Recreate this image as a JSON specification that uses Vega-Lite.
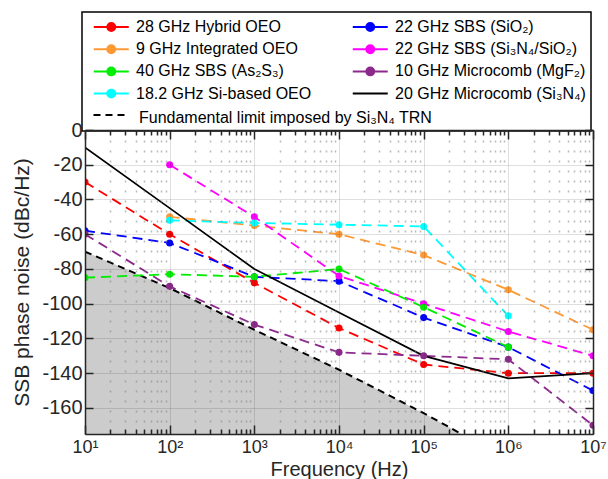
{
  "$schema": "https://vega.github.io/schema/vega-lite/v6.json",
  "width": 508,
  "height": 304,
  "autosize": {"type": "none"},
  "padding": {"left": 85, "top": 130, "right": 15, "bottom": 45},
  "background": "white",
  "config": {"view": {"stroke": null}, "font": "Liberation Sans"},
  "datasets": {
    "series": [
      {"s": "28 GHz Hybrid OEO", "f": 10, "n": -30},
      {"s": "28 GHz Hybrid OEO", "f": 100, "n": -60},
      {"s": "28 GHz Hybrid OEO", "f": 1000, "n": -88},
      {"s": "28 GHz Hybrid OEO", "f": 10000, "n": -114},
      {"s": "28 GHz Hybrid OEO", "f": 100000, "n": -135},
      {"s": "28 GHz Hybrid OEO", "f": 1000000, "n": -140},
      {"s": "28 GHz Hybrid OEO", "f": 10000000, "n": -140},
      {"s": "22 GHz SBS (SiO₂)", "f": 10, "n": -58},
      {"s": "22 GHz SBS (SiO₂)", "f": 100, "n": -65},
      {"s": "22 GHz SBS (SiO₂)", "f": 1000, "n": -84.5},
      {"s": "22 GHz SBS (SiO₂)", "f": 10000, "n": -87},
      {"s": "22 GHz SBS (SiO₂)", "f": 100000, "n": -108},
      {"s": "22 GHz SBS (SiO₂)", "f": 1000000, "n": -125},
      {"s": "22 GHz SBS (SiO₂)", "f": 10000000, "n": -150},
      {"s": "9 GHz Integrated OEO", "f": 100, "n": -50},
      {"s": "9 GHz Integrated OEO", "f": 1000, "n": -55},
      {"s": "9 GHz Integrated OEO", "f": 10000, "n": -60},
      {"s": "9 GHz Integrated OEO", "f": 100000, "n": -72},
      {"s": "9 GHz Integrated OEO", "f": 1000000, "n": -92},
      {"s": "9 GHz Integrated OEO", "f": 10000000, "n": -115},
      {"s": "22 GHz SBS (Si₃N₄/SiO₂)", "f": 100, "n": -20},
      {"s": "22 GHz SBS (Si₃N₄/SiO₂)", "f": 1000, "n": -50},
      {"s": "22 GHz SBS (Si₃N₄/SiO₂)", "f": 10000, "n": -84},
      {"s": "22 GHz SBS (Si₃N₄/SiO₂)", "f": 100000, "n": -100},
      {"s": "22 GHz SBS (Si₃N₄/SiO₂)", "f": 1000000, "n": -116},
      {"s": "22 GHz SBS (Si₃N₄/SiO₂)", "f": 10000000, "n": -130},
      {"s": "40 GHz SBS (As₂S₃)", "f": 10, "n": -85},
      {"s": "40 GHz SBS (As₂S₃)", "f": 100, "n": -83},
      {"s": "40 GHz SBS (As₂S₃)", "f": 1000, "n": -84.5},
      {"s": "40 GHz SBS (As₂S₃)", "f": 10000, "n": -80},
      {"s": "40 GHz SBS (As₂S₃)", "f": 100000, "n": -102},
      {"s": "40 GHz SBS (As₂S₃)", "f": 1000000, "n": -125},
      {"s": "10 GHz Microcomb (MgF₂)", "f": 10, "n": -60},
      {"s": "10 GHz Microcomb (MgF₂)", "f": 100, "n": -90},
      {"s": "10 GHz Microcomb (MgF₂)", "f": 1000, "n": -112},
      {"s": "10 GHz Microcomb (MgF₂)", "f": 10000, "n": -128},
      {"s": "10 GHz Microcomb (MgF₂)", "f": 100000, "n": -130},
      {"s": "10 GHz Microcomb (MgF₂)", "f": 1000000, "n": -132},
      {"s": "10 GHz Microcomb (MgF₂)", "f": 10000000, "n": -170},
      {"s": "18.2 GHz Si-based OEO", "f": 100, "n": -52},
      {"s": "18.2 GHz Si-based OEO", "f": 1000, "n": -53.5},
      {"s": "18.2 GHz Si-based OEO", "f": 10000, "n": -54.5},
      {"s": "18.2 GHz Si-based OEO", "f": 100000, "n": -55.5},
      {"s": "18.2 GHz Si-based OEO", "f": 1000000, "n": -107},
      {"s": "20 GHz Microcomb (Si₃N₄)", "f": 10, "n": -10},
      {"s": "20 GHz Microcomb (Si₃N₄)", "f": 100, "n": -45},
      {"s": "20 GHz Microcomb (Si₃N₄)", "f": 1000, "n": -80},
      {"s": "20 GHz Microcomb (Si₃N₄)", "f": 10000, "n": -105},
      {"s": "20 GHz Microcomb (Si₃N₄)", "f": 100000, "n": -130},
      {"s": "20 GHz Microcomb (Si₃N₄)", "f": 1000000, "n": -143},
      {"s": "20 GHz Microcomb (Si₃N₄)", "f": 10000000, "n": -140}
    ],
    "limit": [
      {"k": "Fundamental limit imposed by Si₃N₄ TRN", "f": 10, "n": -70},
      {"k": "Fundamental limit imposed by Si₃N₄ TRN", "f": 100, "n": -91},
      {"k": "Fundamental limit imposed by Si₃N₄ TRN", "f": 1000, "n": -115},
      {"k": "Fundamental limit imposed by Si₃N₄ TRN", "f": 10000, "n": -138},
      {"k": "Fundamental limit imposed by Si₃N₄ TRN", "f": 100000, "n": -163},
      {"k": "Fundamental limit imposed by Si₃N₄ TRN", "f": 280000, "n": -175}
    ]
  },
  "encoding": {
    "x": {"field": "f", "type": "quantitative", "scale": {"type": "log", "domain": [10, 10000000]}, "axis": null},
    "y": {"field": "n", "type": "quantitative", "scale": {"domain": [-175, 0], "nice": false, "zero": false}, "axis": null},
    "color": {
      "field": "s",
      "type": "nominal",
      "scale": {
        "domain": ["28 GHz Hybrid OEO", "9 GHz Integrated OEO", "40 GHz SBS (As₂S₃)", "18.2 GHz Si-based OEO", "22 GHz SBS (SiO₂)", "22 GHz SBS (Si₃N₄/SiO₂)", "10 GHz Microcomb (MgF₂)", "20 GHz Microcomb (Si₃N₄)"],
        "range": ["#ff0000", "#ff9933", "#00ee00", "#00ffff", "#0000ff", "#ff00ff", "#8c2a8c", "#000000"]
      },
      "legend": {
        "orient": "none",
        "legendX": -3,
        "legendY": -118,
        "columns": 2,
        "columnPadding": 34,
        "rowPadding": 4.2,
        "padding": 5,
        "strokeColor": "black",
        "fillColor": "white",
        "symbolSize": 306,
        "symbolType": "M-0.37,0H3.63M2.08,0A0.45,0.45,0,1,1,1.18,0A0.45,0.45,0,1,1,2.08,0",
        "symbolStrokeWidth": 2,
        "labelFont": "Liberation Sans",
        "labelFontSize": 16,
        "labelColor": "black",
        "labelOffset": 29,
        "labelLimit": 400,
        "labelExpr": "datum.label == '10 GHz Microcomb (MgF₂)' ? datum.label + '    ' : datum.label",
        "title": "Fundamental limit imposed by Si₃N₄ TRN",
        "titleOrient": "bottom",
        "titleAnchor": "start",
        "titleFont": "Liberation Sans",
        "titleFontSize": 16,
        "titleFontWeight": "normal",
        "titleColor": "black",
        "titlePadding": 7.5,
        "titleLimit": 500,
        "encode": {
          "legend": {"update": {"strokeWidth": {"value": 1.5}}},
          "title": {"update": {"dx": {"value": 52}}},
          "symbols": {
            "update": {
              "fill": {"scale": "color", "field": "value"},
              "stroke": {"scale": "color", "field": "value"},
              "strokeDash": {"value": []},
              "strokeWidth": {"value": 2},
              "opacity": {"value": 1},
              "size": {"value": 306},
              "shape": {"signal": "datum.value === '20 GHz Microcomb (Si₃N₄)' ? 'M-0.37,0H3.63' : 'M-0.37,0H3.63M2.08,0A0.45,0.45,0,1,1,1.18,0A0.45,0.45,0,1,1,2.08,0'"}
            }
          }
        }
      }
    }
  },
  "layer": [
    {
      "data": {"name": "limit"},
      "mark": {"type": "area", "clip": true},
      "encoding": {
        "x": {
          "field": "f", "type": "quantitative",
          "scale": {"type": "log", "domain": [10, 10000000]},
          "axis": {
            "orient": "bottom",
            "values": [10,20,30,40,50,60,70,80,90,100,200,300,400,500,600,700,800,900,1000,2000,3000,4000,5000,6000,7000,8000,9000,10000,20000,30000,40000,50000,60000,70000,80000,90000,100000,200000,300000,400000,500000,600000,700000,800000,900000,1000000,2000000,3000000,4000000,5000000,6000000,7000000,8000000,9000000,10000000],
            "labelExpr": "datum.value == 10 ? '10¹' : datum.value == 100 ? '10²' : datum.value == 1000 ? '10³' : datum.value == 10000 ? '10⁴' : datum.value == 100000 ? '10⁵' : datum.value == 1000000 ? '10⁶' : datum.value == 10000000 ? '10⁷' : ''",
            "labelFont": "Liberation Sans",
            "labelFontSize": 18,
            "labelColor": "#262626",
            "labelPadding": 13,
            "labelFlush": false,
            "labelOverlap": false,
            "tickSize": {"condition": {"test": "indexof([10,100,1000,10000,100000,1000000,10000000], datum.value) >= 0", "value": -9}, "value": -5},
            "tickColor": "#262626",
            "tickWidth": 1.5,
            "domainColor": "#262626",
            "domainWidth": 1.5,
            "grid": true,
            "gridColor": {"condition": {"test": "indexof([10,100,1000,10000,100000,1000000,10000000], datum.value) >= 0", "value": "#262626"}, "value": "#808080"},
            "gridOpacity": {"condition": {"test": "indexof([10,100,1000,10000,100000,1000000,10000000], datum.value) >= 0", "value": 0.15}, "value": 0.55},
            "gridDash": {"condition": {"test": "indexof([10,100,1000,10000,100000,1000000,10000000], datum.value) >= 0", "value": []}, "value": [2, 8]},
            "gridWidth": {"condition": {"test": "indexof([10,100,1000,10000,100000,1000000,10000000], datum.value) >= 0", "value": 1}, "value": 1.5},
            "title": "Frequency (Hz)",
            "titleFont": "Liberation Sans",
            "titleFontSize": 20,
            "titleFontWeight": "normal",
            "titleColor": "#262626",
            "titleBaseline": "alphabetic",
            "titleY": 41,
            "zindex": 1
          }
        },
        "y": {
          "field": "n", "type": "quantitative",
          "scale": {"domain": [-175, 0], "nice": false, "zero": false},
          "axis": {
            "orient": "left",
            "values": [-160, -140, -120, -100, -80, -60, -40, -20, 0],
            "labelExpr": "'' + datum.value",
            "labelFont": "Liberation Sans",
            "labelFontSize": 20,
            "labelColor": "#262626",
            "labelPadding": 11,
            "labelFlush": false,
            "labelOverlap": false,
            "tickSize": -8,
            "tickColor": "#262626",
            "tickWidth": 1.5,
            "domainColor": "#262626",
            "domainWidth": 1.5,
            "grid": true,
            "gridColor": "#262626",
            "gridOpacity": 0.15,
            "gridWidth": 1,
            "title": "SSB phase noise (dBc/Hz)",
            "titleFont": "Liberation Sans",
            "titleFontSize": 21,
            "titleFontWeight": "normal",
            "titleColor": "#262626",
            "titleBaseline": "alphabetic",
            "titleX": -57,
            "zindex": 1
          }
        },
        "y2": {"datum": -175},
        "color": {"value": "#cccccc"}
      }
    },
    {
      "data": {"name": "limit"},
      "mark": {"type": "line", "strokeWidth": 2, "clip": true},
      "encoding": {
        "x": {
          "field": "f", "type": "quantitative",
          "scale": {"type": "log", "domain": [10, 10000000]},
          "axis": {
            "orient": "top",
            "values": [10,20,30,40,50,60,70,80,90,100,200,300,400,500,600,700,800,900,1000,2000,3000,4000,5000,6000,7000,8000,9000,10000,20000,30000,40000,50000,60000,70000,80000,90000,100000,200000,300000,400000,500000,600000,700000,800000,900000,1000000,2000000,3000000,4000000,5000000,6000000,7000000,8000000,9000000,10000000],
            "labels": false,
            "tickSize": {"condition": {"test": "indexof([10,100,1000,10000,100000,1000000,10000000], datum.value) >= 0", "value": -9}, "value": -5},
            "tickColor": "#262626",
            "tickWidth": 1.5,
            "domainColor": "#262626",
            "domainWidth": 1.5,
            "grid": false,
            "title": null,
            "zindex": 1
          }
        },
        "y": {
          "field": "n", "type": "quantitative",
          "scale": {"domain": [-175, 0], "nice": false, "zero": false},
          "axis": {
            "orient": "right",
            "values": [-160, -140, -120, -100, -80, -60, -40, -20, 0],
            "labels": false,
            "tickSize": -8,
            "tickColor": "#262626",
            "tickWidth": 1.5,
            "domainColor": "#262626",
            "domainWidth": 1.5,
            "grid": false,
            "title": null,
            "zindex": 1
          }
        },
        "color": {"value": "black"},
        "strokeDash": {
          "field": "k", "type": "nominal",
          "scale": {"domain": ["Fundamental limit imposed by Si₃N₄ TRN"], "range": [[7, 5]]},
          "legend": {
            "orient": "none",
            "legendX": 7.5,
            "legendY": -33.5,
            "title": null,
            "labelExpr": "''",
            "symbolType": "stroke",
            "symbolSize": 1225,
            "symbolStrokeWidth": 2,
            "symbolStrokeColor": "black",
            "padding": 0,
            "zindex": 2
          }
        }
      }
    },
    {
      "data": {"name": "series"},
      "transform": [{"filter": "datum.s !== '20 GHz Microcomb (Si₃N₄)'"}],
      "mark": {"type": "line", "strokeWidth": 1.8, "strokeDash": [10, 6], "clip": true}
    },
    {
      "data": {"name": "series"},
      "transform": [{"filter": "datum.s === '20 GHz Microcomb (Si₃N₄)'"}],
      "mark": {"type": "line", "strokeWidth": 1.7, "clip": true}
    },
    {
      "data": {"name": "series"},
      "transform": [{"filter": "datum.s !== '20 GHz Microcomb (Si₃N₄)'"}],
      "mark": {"type": "circle", "size": 50, "opacity": 1, "clip": true}
    }
  ],
  "resolve": {"axis": {"x": "independent", "y": "independent"}}
}
